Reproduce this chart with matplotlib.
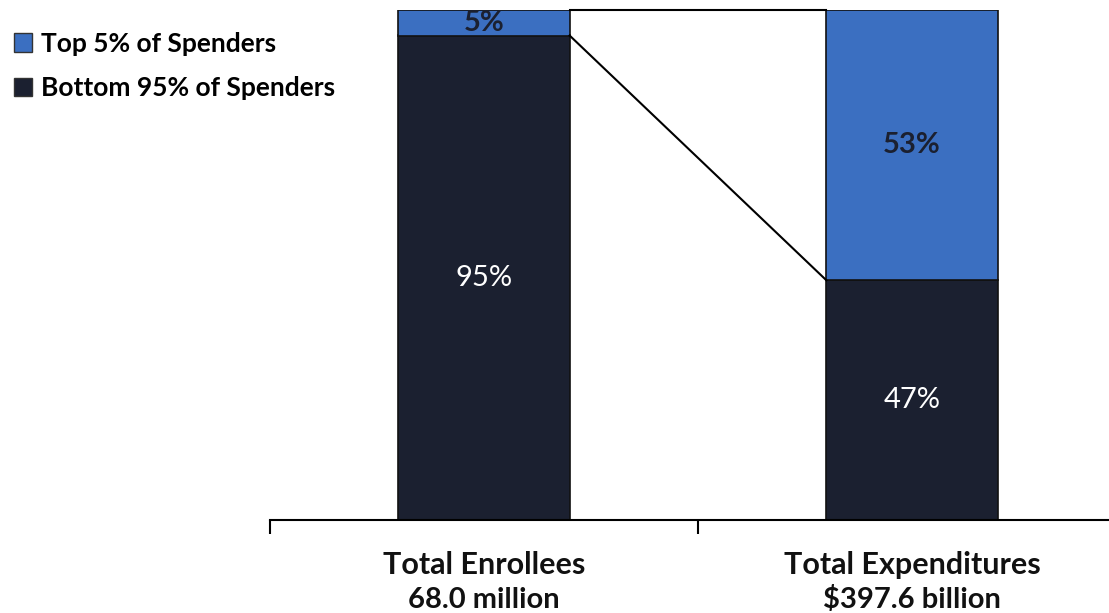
import matplotlib.pyplot as plt
from matplotlib.patches import Patch

categories = ['Total Enrollees', 'Total Expenditures']
totals = ['68.0 million', '$397.6 billion']
bottom_share = [95, 47]
top_share = [5, 53]
series_names = ['Top 5% of Spenders', 'Bottom 95% of Spenders']

blue = '#3b6fc1'
navy = '#1b2030'

plt.rcParams['font.family'] = ['Lato', 'DejaVu Sans']

fig = plt.figure(figsize=(11.09, 6.13), dpi=100)
ax = fig.add_axes([270 / 1109, 93 / 613, 856 / 1109, 510 / 613])

x = [0, 1]
w = 0.4
ax.bar(x, bottom_share, width=w, color=navy, edgecolor='#111111', linewidth=1.2)
ax.bar(x, top_share, width=w, bottom=bottom_share, color=blue, edgecolor='#111111', linewidth=1.2)

# connector lines between the two bars
ax.plot([w / 2, 1 - w / 2], [bottom_share[0], bottom_share[1]], color='black', lw=1.5)
ax.plot([w / 2, 1 - w / 2], [100, 100], color='black', lw=1.5, clip_on=False)

# segment labels
ax.text(0, bottom_share[0] / 2, f'{bottom_share[0]}%', ha='center', va='center', color='white', fontsize=21)
ax.text(1, bottom_share[1] / 2, f'{bottom_share[1]}%', ha='center', va='center', color='white', fontsize=21)
ax.text(0, bottom_share[0] + top_share[0] / 2, f'{top_share[0]}%', ha='center', va='center',
        color=navy, fontsize=21, fontweight='bold')
ax.text(1, bottom_share[1] + top_share[1] / 2, f'{top_share[1]}%', ha='center', va='center',
        color=navy, fontsize=21, fontweight='bold')

ax.set_xlim(-0.5, 1.5)
ax.set_ylim(0, 100)
for s in ['top', 'right', 'left']:
    ax.spines[s].set_visible(False)
ax.spines['bottom'].set_linewidth(1.5)
ax.set_yticks([])
ax.set_xticks([-0.5, 0.5, 1.5])
ax.set_xticklabels([])
ax.tick_params(axis='x', length=10, width=1.5, direction='out')

for xi, cat, tot in zip(x, categories, totals):
    ax.text(xi, -8.8, cat, ha='center', va='center', fontsize=22, fontweight='bold', color='#111111')
    ax.text(xi, -15.6, tot, ha='center', va='center', fontsize=21, fontweight='bold', color='#111111')

handles = [Patch(facecolor=blue, edgecolor='#333333'), Patch(facecolor=navy, edgecolor='#333333')]
fig.legend(handles, series_names, loc='upper left', bbox_to_anchor=(-0.009, 0.987), frameon=False,
           prop={'weight': 'bold', 'size': 19}, handlelength=0.7, handleheight=0.7,
           handletextpad=0.35, labelspacing=0.78)

fig.savefig('out.png', dpi=100)
